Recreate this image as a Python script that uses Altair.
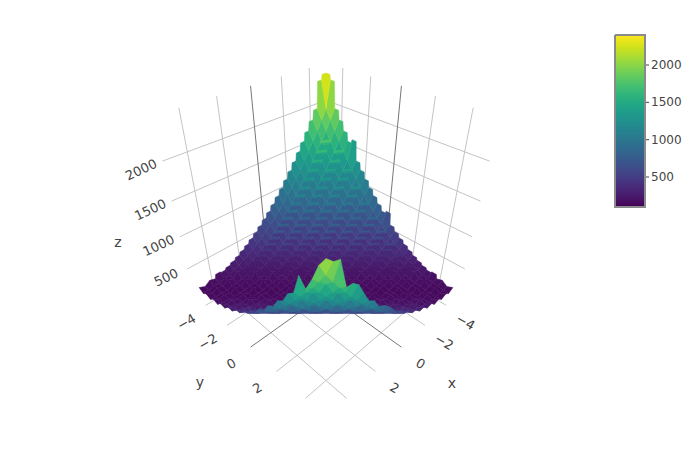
import math
import altair as alt

tick_xy = [-4, -2, 0, 2, 4]
tick_z = [500, 1000, 1500, 2000]
xs = [-5 + 10 * i / 28 for i in range(29)]

# z over the x (rows) and y (columns) grid
Z = [
[2400,2330,1967,1832,1703,1580,1631,1347,1239,1136,1037,944,856,773,805,622,554,492,434,382,334,292,256,224,242,175,203,146,185],
[2330,1967,1832,1703,1580,1461,1347,1239,1136,1037,944,856,773,695,622,554,492,434,382,334,292,256,224,197,175,158,146,140,139],
[1967,1832,1703,1580,1461,1347,1239,1136,1037,944,856,773,695,622,554,492,434,382,334,292,256,224,242,175,203,146,185,139,187],
[1832,1703,1580,1461,1347,1239,1136,1037,944,856,773,695,622,554,492,434,382,334,292,256,224,197,175,158,146,140,139,142,151],
[1703,1580,1461,1347,1239,1136,1037,944,856,773,695,622,554,492,434,382,334,292,256,224,242,175,203,146,185,139,187,151,210],
[1580,1461,1347,1239,1136,1037,944,856,773,695,622,554,492,434,382,334,292,256,224,197,175,158,146,140,139,142,151,165,184],
[1461,1347,1239,1136,1037,944,856,773,695,622,554,492,434,382,334,292,256,224,242,175,203,146,185,139,187,151,210,184,253],
[1347,1239,1136,1037,944,856,773,695,622,554,492,434,382,334,292,256,224,197,175,158,146,140,139,142,151,165,184,208,238],
[1239,1136,1037,944,856,773,695,622,554,492,434,382,334,292,256,224,242,175,203,146,185,139,187,151,210,184,253,238,317],
[1136,1037,944,856,773,695,622,554,492,434,382,334,292,256,224,197,175,158,146,140,139,142,151,165,184,208,238,272,311],
[1037,944,856,773,695,622,554,492,434,382,334,292,256,224,242,175,203,146,185,139,187,151,210,184,253,238,317,311,401],
[944,856,773,695,622,554,492,434,382,334,292,256,224,197,175,158,146,140,139,142,151,165,184,208,238,272,311,356,406],
[856,773,695,622,554,492,434,382,334,292,256,224,242,175,203,146,185,139,187,151,210,184,253,238,317,311,401,406,505],
[773,695,622,554,492,434,382,334,292,256,224,197,175,158,146,140,139,142,151,165,184,208,238,272,311,356,406,460,520],
[695,622,554,492,434,382,334,292,256,224,242,175,203,146,185,139,187,151,210,184,253,238,317,311,401,406,505,520,630],
[622,554,492,434,382,334,292,256,224,197,175,158,146,140,139,142,151,165,184,208,238,272,311,356,406,460,520,585,655],
[554,492,434,382,334,292,256,224,242,175,203,146,185,139,187,151,210,184,253,238,317,311,401,406,505,520,630,655,775],
[492,434,382,334,292,256,224,197,175,158,146,140,139,142,151,165,184,208,238,272,311,356,406,460,520,585,655,730,870],
[434,382,334,292,256,224,242,175,203,146,185,139,187,151,210,184,253,238,317,311,401,406,505,520,630,655,775,810,940],
[382,334,292,256,224,197,175,158,146,140,139,142,151,165,184,208,238,272,311,356,406,460,520,585,655,730,810,895,986],
[334,292,256,224,242,175,203,146,185,139,187,151,210,184,253,238,317,311,401,406,505,520,630,655,775,810,940,986,1126],
[292,256,224,197,175,158,146,140,139,142,151,165,184,208,238,272,311,356,406,460,520,585,655,730,810,895,986,1081,1182],
[256,224,242,175,203,146,185,139,187,151,210,184,253,238,317,311,401,406,505,520,630,655,775,810,940,986,1126,1182,1334],
[224,197,175,158,146,140,139,142,151,165,184,208,238,272,311,356,406,460,520,585,655,730,810,895,986,1081,1182,1289,1499],
[242,175,203,146,185,139,187,151,210,184,253,238,317,311,401,406,505,520,630,655,775,810,940,986,1126,1182,1334,1399,1570],
[175,158,146,140,139,142,151,165,184,208,238,272,311,356,406,460,520,585,655,730,810,895,986,1081,1182,1289,1399,1515,1576],
[203,146,185,139,187,151,210,184,253,238,317,311,401,406,505,520,630,655,775,810,940,986,1126,1182,1334,1399,1560,1636,1937],
[146,140,139,142,151,165,184,208,238,272,311,356,406,460,520,585,655,730,810,895,986,1081,1182,1289,1399,1515,1636,1762,1964],
[185,139,187,151,210,184,253,238,317,311,401,406,505,520,630,655,775,810,940,986,1126,1182,1334,1399,1660,1560,1720,1924,2045],
]

N = len(xs)
F, CX, CY, R = 462, 318, 208.5, 5.3
ZLO, ZHI = 82, 2501
E = 1.25
S3, S2, S6 = math.sqrt(3), math.sqrt(2), math.sqrt(6)
ST = xs[1] - xs[0]

def cube(x, y, z):
    return x / (2 * R), y / (2 * R), (z - ZLO) / (ZHI - ZLO) - 0.5

def proj(x, y, z):
    a, b, c = cube(x, y, z)
    px, py, pz = a - E, b - E, c - E
    depth = -(px + py + pz) / S3
    r = (-px + py) / S2
    u = (-px - py + 2 * pz) / S6
    return [round(CX + F * r / depth, 2), round(CY - F * u / depth, 2)], depth

def at(i, j, u, v):
    vals = [Z[i][j], Z[i + 1][j], Z[i + 1][j + 1], Z[i][j + 1]]
    zz = vals[0] * (1 - u) * (1 - v) + vals[1] * u * (1 - v) + vals[2] * u * v + vals[3] * (1 - u) * v
    return proj(xs[i] + u * ST, xs[j] + v * ST, zz)[0]

def feature(ring, val):
    ring = ring + [ring[0]]
    return {"type": "Feature", "properties": {"v": val},
            "geometry": {"type": "Polygon", "coordinates": [ring]}}

back_cells, slivers, front_cells = [], [], []
for i in range(N - 1):
    for j in range(N - 1):
        q = [(i, j), (i + 1, j), (i + 1, j + 1), (i, j + 1)]
        pts = [proj(xs[a], xs[b], Z[a][b]) for a, b in q]
        zm = sum(Z[a][b] for a, b in q) / 4
        c = [cube(xs[a], xs[b], Z[a][b]) for a, b in q]
        ux, uy, uz = c[2][0] - c[0][0], c[2][1] - c[0][1], c[2][2] - c[0][2]
        vx, vy, vz = c[3][0] - c[1][0], c[3][1] - c[1][1], c[3][2] - c[1][2]
        nx, ny, nz = uy * vz - uz * vy, uz * vx - ux * vz, ux * vy - uy * vx
        n = math.sqrt(nx * nx + ny * ny + nz * nz)
        lam = abs(nx * 0.2 + ny * 0.2 + nz * 0.96) / n
        fade = min(1, max(0, (zm - 120) / 400))
        val = zm + 50 * (lam - 0.66) * fade
        ring = [p[0] for p in pts]
        d = i + j - 28
        if d > 0:
            val *= 1 + 0.06 * min(1, d / 15)
        back = d < -3
        if back and j == 0:
            ring = [ring[0], proj(xs[i] + 0.85 * ST, xs[j], Z[i][j])[0]] + ring[1:]
        if back and i == 0:
            ring = ring + [proj(xs[i], xs[j] + 0.85 * ST, Z[i][j])[0]]
        depth = sum(p[1] for p in pts) / 4
        (back_cells if back else front_cells).append((depth, feature(ring, val)))
        if -25 < d < -5 and j % 2 == 0 and 0 < i and 0 < j and j < 27:
            s = min(1, (zm - 220) / 300)
            t = 0.05
            off = 0.2
            a0, b0, a1, b1 = 1.2, -0.14, -0.14, 1.08
            dark = [at(i, j, a0 + off, b0 + off), at(i, j, a1 + off, b1 + off),
                    at(i, j, a1 + off + 0.22, b1 + off + 0.22), at(i, j, a0 + off + 0.22, b0 + off + 0.22)]
            lite = [at(i, j, a0 - t, b0 - t), at(i, j, a1 - t, b1 - t),
                    at(i, j, a1 + t, b1 + t), at(i, j, a0 + t, b0 + t)]
            slivers.append(feature(dark, zm - 90 * s))
            slivers.append(feature(lite, zm + 190 * s))
back_cells.sort(key=lambda t: -t[0])
front_cells.sort(key=lambda t: -t[0])
surface = [c[1] for c in back_cells] + slivers + [c[1] for c in front_cells]

def seg(a, b):
    return {"type": "Feature", "properties": {},
            "geometry": {"type": "LineString", "coordinates": [proj(*a)[0], proj(*b)[0]]}}

grid, zero = [], []
for t in tick_xy:
    tgt = zero if t == 0 else grid
    tgt.append(seg((t, -R, ZLO), (t, R, ZLO)))
    tgt.append(seg((-R, t, ZLO), (R, t, ZLO)))
    tgt.append(seg((t, -R, ZLO), (t, -R, ZHI)))
    tgt.append(seg((-R, t, ZLO), (-R, t, ZHI)))
for t in tick_z:
    grid.append(seg((R, -R, t), (-R, -R, t)))
    grid.append(seg((-R, R, t), (-R, -R, t)))

ZMIN, ZMAX = 98, 2402
BAR_X, BAR_Y, BAR_W, BAR_H = 607, 27, 30, 172

def bar_y(v):
    return BAR_Y + BAR_H * (ZMAX - v) / (ZMAX - ZMIN)

bar_rows = []
for k in range(BAR_H):
    top = BAR_Y + k
    v = ZMAX - (k + 0.5) * (ZMAX - ZMIN) / BAR_H
    bar_rows.append(feature([[BAR_X, top], [BAR_X + BAR_W, top], [BAR_X + BAR_W, top + 1.2], [BAR_X, top + 1.2]], v))
bar_outline = [{"type": "Feature", "properties": {}, "geometry": {"type": "LineString", "coordinates": [
    [BAR_X, BAR_Y], [BAR_X + BAR_W, BAR_Y], [BAR_X + BAR_W, BAR_Y + BAR_H], [BAR_X, BAR_Y + BAR_H], [BAR_X, BAR_Y]]}}]
bar_ticks = [{"type": "Feature", "properties": {}, "geometry": {"type": "LineString", "coordinates": [
    [BAR_X + BAR_W + 1, bar_y(t)], [BAR_X + BAR_W + 4, bar_y(t)]]}} for t in tick_z]
bar_labels = [{"t": str(t), "lon": BAR_X + BAR_W + 6, "lat": bar_y(t)} for t in tick_z]

def fmt(t):
    return str(t).replace("-", "\u2212")

xlab = [{"t": fmt(t), "lon": proj(t, R, ZLO)[0][0] + 19, "lat": proj(t, R, ZLO)[0][1] + 17} for t in tick_xy[:4]]
ylab = [{"t": fmt(t), "lon": proj(R, t, ZLO)[0][0] - 19, "lat": proj(R, t, ZLO)[0][1] + 17} for t in tick_xy[:4]]
zlab = [{"t": str(t), "lon": proj(R, -R, t)[0][0] - 21, "lat": proj(R, -R, t)[0][1] + 9} for t in tick_z]
titles = [{"t": "x", "lon": 444, "lat": 376}, {"t": "y", "lon": 192, "lat": 375}, {"t": "z", "lon": 110, "lat": 235}]

FONT = "DejaVu Sans"
color = alt.Scale(scheme="viridis", domain=[ZMIN, ZMAX], clamp=True)

def lines(feats, col, w):
    return alt.Chart(alt.Data(values=feats)).mark_geoshape(filled=False, stroke=col, strokeWidth=w)

def texts(rows, angle=0, size=13, align="center"):
    return alt.Chart(alt.Data(values=rows)).mark_text(font=FONT, fontSize=size, color="#444444", angle=angle, align=align).encode(
        longitude="lon:Q", latitude="lat:Q", text="t:N")

def filled(feats, sw):
    return alt.Chart(alt.Data(values=feats)).mark_geoshape(strokeWidth=sw).encode(
        color=alt.Color("properties.v:Q", scale=color, legend=None),
        stroke=alt.Stroke("properties.v:Q", scale=color, legend=None),
    )

chart = alt.layer(
    lines(grid, "#c4c4c4", 1), lines(zero, "#777777", 1), filled(surface, 0.5), filled(bar_rows, 0),
    lines(bar_outline, "#8a8a8a", 2), lines(bar_ticks, "#444444", 1),
    texts(bar_labels, 0, 12, "left"),
    texts(xlab, 30), texts(ylab, 330), texts(zlab, 335), texts(titles, 0, 14),
).project(type="identity", scale=1, translate=[0, 0]).properties(
    width=684, height=434, padding=0, autosize=alt.AutoSizeParams(type="none"),
).configure_view(stroke=None)

chart.save("out.html", embed_options={"renderer": "svg", "actions": False})
